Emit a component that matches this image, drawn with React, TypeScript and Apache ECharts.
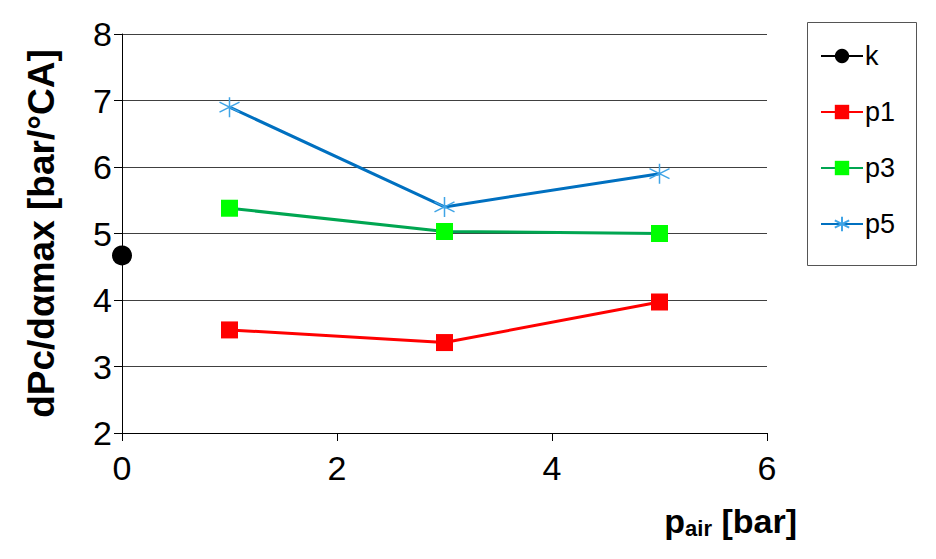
import React, { useEffect, useRef } from "react";
import * as echarts from "echarts";

const kData: [number, number][] = [[0, 4.67]];
const p1Data: [number, number][] = [[1, 3.55], [3, 3.36], [5, 3.97]];
const p3Data: [number, number][] = [[1, 5.38], [3, 5.03], [5, 5.0]];
const p5Data: [number, number][] = [[1, 6.9], [3, 5.4], [5, 5.9]];
const seriesNames = ["k", "p1", "p3", "p5"];

const FONT = "'Liberation Sans', Arial, sans-serif";
const STAR = "path://M5 0 L5 10 M0.7 2.5 L9.3 7.5 M9.3 2.5 L0.7 7.5";

export default function App() {
  const ref = useRef<HTMLDivElement>(null);
  useEffect(() => {
    if (!ref.current) return;
    const chart = echarts.init(ref.current, undefined, { renderer: "svg" });
    chart.setOption({
      animation: false,
      backgroundColor: "#ffffff",
      grid: { left: 122, right: 169, top: 34, bottom: 126 },
      xAxis: {
        type: "value",
        min: 0,
        max: 6,
        interval: 2,
        name: "{a|p}{b|air}{a| [bar]}",
        nameLocation: "end",
        nameGap: 30,
        nameTextStyle: {
          align: "right",
          verticalAlign: "top",
          padding: [70, 0, 0, 0],
          rich: {
            a: { fontFamily: FONT, fontWeight: "bold", fontSize: 34, color: "#000" },
            b: { fontFamily: FONT, fontWeight: "bold", fontSize: 22, color: "#000", padding: [14, 0, 0, 0] },
          },
        },
        axisLine: { show: true, lineStyle: { color: "#000", width: 1 } },
        axisTick: { show: true, length: 8, lineStyle: { color: "#000" } },
        axisLabel: { fontFamily: FONT, fontSize: 34, color: "#000", margin: 18 },
        splitLine: { show: false },
      },
      yAxis: {
        type: "value",
        min: 2,
        max: 8,
        interval: 1,
        name: "dPc/dαmax [bar/°CA]",
        nameLocation: "middle",
        nameGap: 62,
        nameTextStyle: { fontFamily: FONT, fontWeight: "bold", fontSize: 37, color: "#000" },
        axisLine: { show: true, lineStyle: { color: "#000", width: 1 } },
        axisTick: { show: true, length: 8, lineStyle: { color: "#000" } },
        axisLabel: { fontFamily: FONT, fontSize: 34, color: "#000", margin: 10 },
        splitLine: { show: true, lineStyle: { color: "#404040", width: 1 } },
      },
      legend: {
        orient: "vertical",
        left: 815,
        top: 37,
        itemWidth: 42,
        itemHeight: 18,
        itemGap: 28,
        data: seriesNames,
        textStyle: { fontFamily: FONT, fontSize: 27, color: "#000", lineHeight: 28, padding: [0, 0, 0, -3] },
      },
      graphic: [
        {
          type: "rect",
          shape: { x: 807.5, y: 22.5, width: 109, height: 243 },
          style: { fill: "none", stroke: "#555", lineWidth: 1 },
          silent: true,
        },
      ],
      series: [
        {
          name: "k",
          type: "line",
          data: kData,
          symbol: "circle",
          symbolSize: 20,
          itemStyle: { color: "#000" },
          lineStyle: { color: "#000", width: 2.5 },
        },
        {
          name: "p1",
          type: "line",
          data: p1Data,
          symbol: "rect",
          symbolSize: 17,
          itemStyle: { color: "#ff0000" },
          lineStyle: { color: "#ff0000", width: 3 },
        },
        {
          name: "p3",
          type: "line",
          data: p3Data,
          symbol: "rect",
          symbolSize: 17,
          itemStyle: { color: "#00ff00" },
          lineStyle: { color: "#00a651", width: 3 },
        },
        {
          name: "p5",
          type: "line",
          data: p5Data,
          symbol: STAR,
          symbolSize: 20,
          itemStyle: { color: "none", borderColor: "#3fa4e6", borderWidth: 1.5 },
          lineStyle: { color: "#0070c0", width: 3 },
        },
      ],
    });
    return () => chart.dispose();
  }, []);
  return <div ref={ref} style={{ width: 936, height: 559, position: "absolute", left: 0, top: 0 }} />;
}
